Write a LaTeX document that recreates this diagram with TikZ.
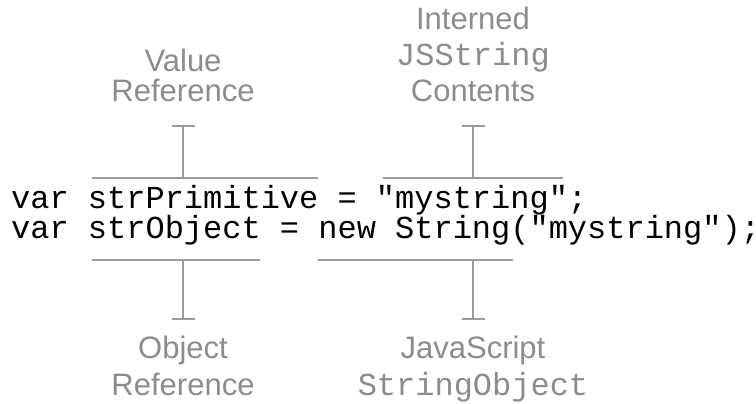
\documentclass[tikz,border=0pt]{standalone}
\usepackage{fontspec}
\setmainfont{Liberation Sans}
\setmonofont{Liberation Mono}
\usepackage{tikz}
\usetikzlibrary{arrows.meta,positioning,calc}

\definecolor{lblgray}{RGB}{140,140,140}
\definecolor{brkgray}{RGB}{155,155,155}
\newcommand{\codefont}{\fontsize{32}{30}\selectfont\ttfamily}
\newcommand{\lblmono}[1]{{\fontsize{32}{30}\selectfont\ttfamily #1}}

\begin{document}
\begin{tikzpicture}[
    x=1pt, y=-1pt,
    codeline/.style={font=\codefont, inner sep=0pt, anchor=base west},
    lbl/.style={text=lblgray, align=center, inner sep=0pt, anchor=base},
    brk/.style={draw=brkgray, line width=2pt},
    stem/.style={brk, -{Bar[width=23pt]}}
]
\useasboundingbox (0,0) rectangle (756,404);

% the two lines of code
\node[codeline] (prim) at (11,208) {var strPrimitive = "mystring";};
\node[codeline] (obj) at (11,238) {var strObject = new String("mystring");};

% labels (base = last line)
\node[lbl, font=\fontsize{31}{30}\selectfont] (valref) at (183,102) {Value\\Reference};
\node[lbl, font=\fontsize{31}{36}\selectfont] (intern) at (473,102) {Interned\\\lblmono{JSString}\\Contents};
\node[lbl, font=\fontsize{31}{37}\selectfont] (objref) at (183,395) {Object\\Reference};
\node[lbl, font=\fontsize{31}{37}\selectfont] (jsobj) at (473,395) {JavaScript\\\lblmono{StringObject}};

% bracket ends
\coordinate (vr-l) at (92,178);   \coordinate (vr-r) at (318,178);
\coordinate (ic-l) at (383,178);  \coordinate (ic-r) at (563,178);
\coordinate (or-l) at (92,260);   \coordinate (or-r) at (260,260);
\coordinate (js-l) at (318,260);  \coordinate (js-r) at (513,260);
\coordinate (vr-t) at (183,125);  \coordinate (ic-t) at (473,125);
\coordinate (or-t) at (183,320);  \coordinate (js-t) at (473,320);

\draw[brk] (vr-l) -- (vr-r);
\draw[brk] (ic-l) -- (ic-r);
\draw[brk] (or-l) -- (or-r);
\draw[brk] (js-l) -- (js-r);
\draw[stem] (vr-l -| vr-t) -- (vr-t);
\draw[stem] (ic-l -| ic-t) -- (ic-t);
\draw[stem] (or-l -| or-t) -- (or-t);
\draw[stem] (js-l -| js-t) -- (js-t);
\end{tikzpicture}
\end{document}
